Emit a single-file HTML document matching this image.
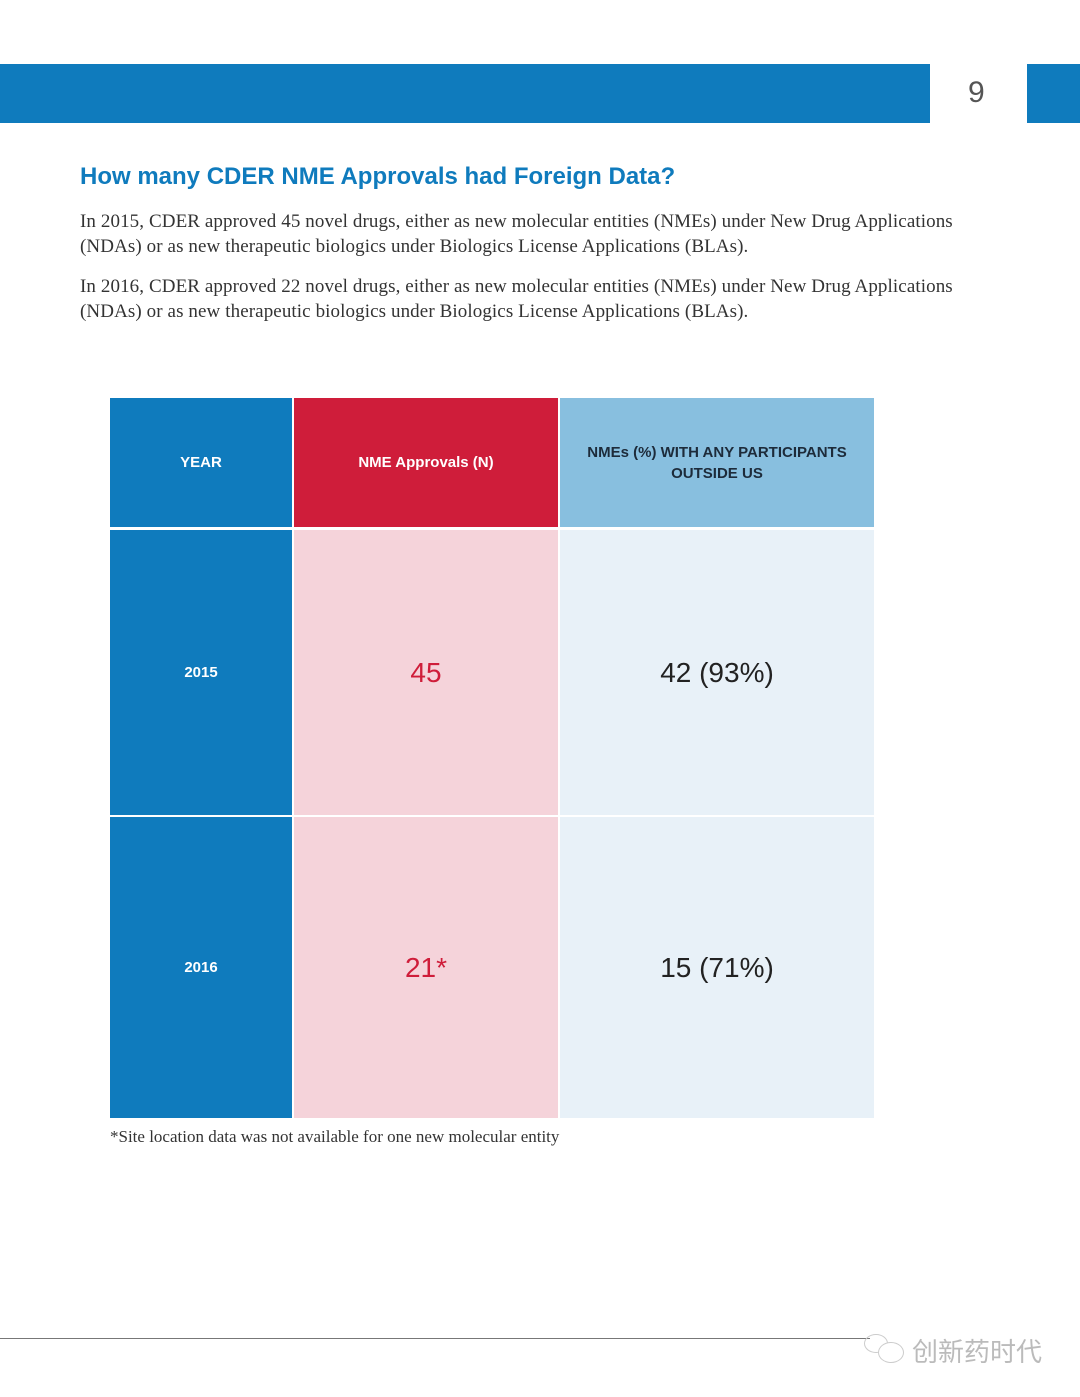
<!DOCTYPE html>
<html><head><meta charset="utf-8">
<style>
html,body{margin:0;padding:0;background:#fff;}
body{width:1080px;height:1397px;position:relative;overflow:hidden;font-family:"Liberation Sans",sans-serif;}
.abs{position:absolute;}
.p{font-family:"Liberation Serif",serif;font-size:19px;letter-spacing:0.1px;color:#333;line-height:25px;left:80px;width:875px;}
.cell{position:absolute;display:flex;align-items:center;justify-content:center;text-align:center;}
</style></head><body>
<div class="abs" style="left:0;top:64px;width:930px;height:59px;background:#0f7bbd"></div>
<div class="abs" style="left:1027px;top:64px;width:53px;height:59px;background:#0f7bbd"></div>
<div class="abs" style="left:968px;top:76px;font-size:30px;color:#555;">9</div>
<div class="abs" style="left:80px;top:163px;font-size:24px;font-weight:bold;color:#0f7bbd;">How many CDER NME Approvals had Foreign Data?</div>
<div class="abs p" style="top:209px;">In 2015, CDER approved 45 novel drugs, either as new molecular entities (NMEs) under New Drug Applications (NDAs) or as new therapeutic biologics under Biologics License Applications (BLAs).</div>
<div class="abs p" style="top:274px;">In 2016, CDER approved 22 novel drugs, either as new molecular entities (NMEs) under New Drug Applications (NDAs) or as new therapeutic biologics under Biologics License Applications (BLAs).</div>

<div id="tbl"></div>

<div class="abs" style="left:110px;top:1127px;font-family:'Liberation Serif',serif;font-size:17px;color:#333;">*Site location data was not available for one new molecular entity</div>
<div class="abs" style="left:0;top:1338px;width:870px;height:1px;background:#777"></div>
<div class="abs" style="left:864px;top:1334px;width:22px;height:17px;border:1px solid #ccc;border-radius:50%;"></div>
<div class="abs" style="left:878px;top:1342px;width:24px;height:19px;border:1px solid #ccc;border-radius:50%;background:#fff"></div>
<div class="abs" style="left:912px;top:1332px;font-family:'Liberation Sans','Noto Sans CJK SC',sans-serif;font-size:26px;color:#bbb;">创新药时代</div>

<script>
const years = ["2015", "2016"];
const approvals = ["45", "21*"];
const foreignPct = ["42 (93%)", "15 (71%)"];
const headers = ["YEAR", "NME Approvals (N)", "NMEs (%) WITH ANY PARTICIPANTS<br>OUTSIDE US"];

const cols = [[110,182],[294,264],[560,314]];
const rows = [[398,129],[530,285],[817,301]];
const hdrBg = ["#0f7bbd","#cf1d3a","#88bfdf"];
const hdrFg = ["#fff","#fff","#1d2b3a"];
const bodyBg = ["#0f7bbd","#f5d3da","#e8f1f8"];
const bodyFg = ["#fff","#cf1d3a","#222"];
const tbl = document.getElementById('tbl');
function mk(c, r, html, bg, fg, size, bold, name){
  const d = document.createElement('div');
  d.className='cell';
  
  
  d.style.left=cols[c][0]+'px'; d.style.width=cols[c][1]+'px';
  d.style.top=rows[r][0]+'px'; d.style.height=rows[r][1]+'px';
  d.style.background=bg; d.style.color=fg; d.style.fontSize=size+'px';
  d.style.fontWeight=bold?'bold':'normal';
  d.style.lineHeight='1.4';
  d.innerHTML=html;
  tbl.appendChild(d);
}
headers.forEach((h,i)=>mk(i,0,h,hdrBg[i],hdrFg[i],15,true,'header-cell-'+i));
years.forEach((y,i)=>{
  mk(0,i+1,y,bodyBg[0],bodyFg[0],15,true,'year-cell-'+y);
  mk(1,i+1,approvals[i],bodyBg[1],bodyFg[1],28,false,'approvals-cell-'+y);
  mk(2,i+1,foreignPct[i],bodyBg[2],bodyFg[2],28,false,'foreign-cell-'+y);
});
</script>
</body></html>
